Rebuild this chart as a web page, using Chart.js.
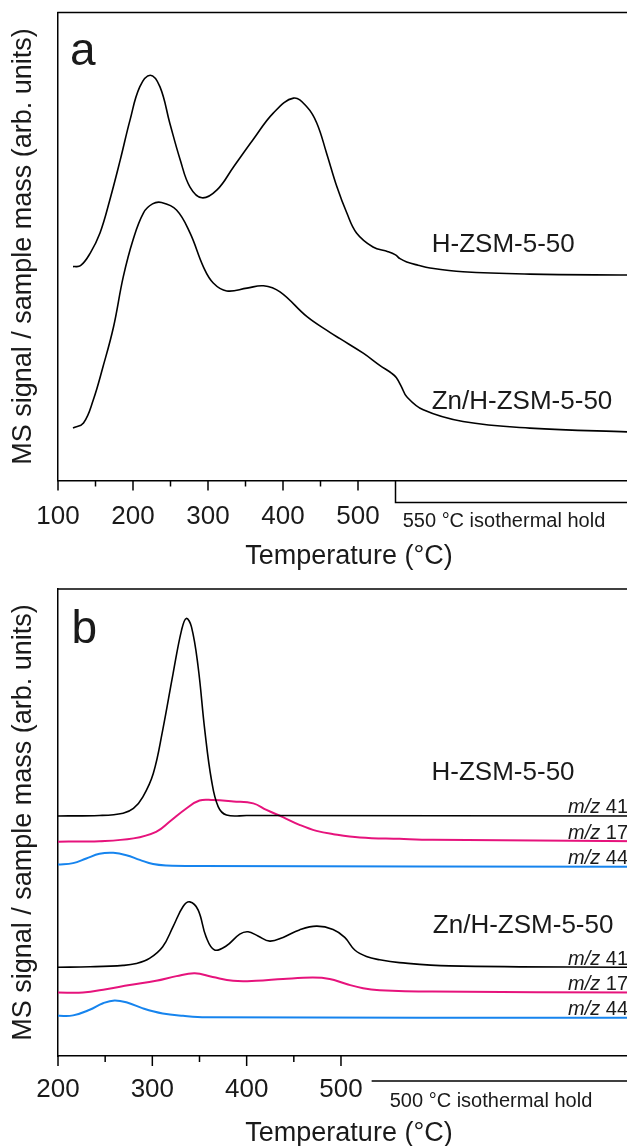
<!DOCTYPE html>
<html><head><meta charset="utf-8">
<script src="https://cdn.jsdelivr.net/npm/chart.js@4.4.0/dist/chart.umd.min.js"></script>
<style>
html,body{margin:0;padding:0;background:#fff;width:627px;height:1146px;overflow:hidden;position:relative;}
#wa{position:absolute;left:0;top:0;width:640px;height:573px;}
#wb{position:absolute;left:0;top:573px;width:640px;height:585px;}
</style></head><body>
<div id="wa"><canvas id="ca" width="640" height="573"></canvas></div>
<div id="wb"><canvas id="cb" width="640" height="585"></canvas></div>
<script>
// ---------- DATA (panel a) ----------
const aTickLabels = [100, 200, 300, 400, 500];
const aMinorTicks = [150, 250, 350, 450];
const aHoldStart = 550;
const aH_T = [120,130,143,156,169,183,196,209,223,236,249,263,276,292,312,334,360,387,414,432,445,458,472,485,498,520,540,550,556,565,580,596,640,729,859,876];
const aH_V = [45.7,45.9,48.6,52.9,59.9,68.5,77.0,84.1,86.6,84.1,76.4,68.5,62.7,60.4,62.1,67.0,72.8,78.5,81.7,79.8,76.4,70.0,62.7,57.2,52.9,49.9,48.9,48.2,47.4,46.7,46.0,45.4,44.6,44.1,43.9,43.9];
const aZ_T = [120,134,147,160,174,187,200,214,226,238,258,276,294,307,325,352,374,396,432,463,476,507,529,545,551,558,565,587,640,729,859,876];
const aZ_V = [11.2,12.3,17.2,24.3,32.8,43.5,51.4,57.2,59.1,59.4,57.8,52.9,45.6,42.2,40.5,41.1,41.6,40.3,35.0,31.6,30.3,27.2,24.6,22.9,22.0,20.0,17.9,15.1,12.6,11.2,10.4,10.4];

// ---------- DATA (panel b) ----------
const bTickLabels = [200, 300, 400, 500];
const bMinorTicks = [250, 350, 450];
const bH41_T = [200,244,269,280,290,301,311,322,331,336,341.5,348.5,355.6,362.7,369.8,378.6,400,817];
const bH41_V = [51.4,51.5,52.0,53.0,55.5,60.5,69.8,81.9,91.2,93.7,91.9,83.4,69.8,59.1,53.4,51.6,51.5,51.4];
const bH17_T = [200,244,280,304,318.5,336,350,364,386,407,421,439,456,474,492,520,562,597,817];
const bH17_V = [45.9,46.0,46.6,48.0,50.2,53.0,54.7,54.8,54.5,54.1,52.7,51.1,49.5,48.2,47.5,46.8,46.5,46.3,46.0];
const bH44_T = [200,216,230,244,258.6,272.5,286.7,300.8,315,350,817];
const bH44_V = [41.0,41.3,42.3,43.3,43.5,43.0,42.0,41.1,40.8,40.7,40.5];
const bZ41_T = [200,234,269,283,297,311,322,332.6,339.7,348.5,357,366,378.6,392.7,401.5,412,424.5,438.6,456,474,491.6,504,514.6,527,541,562,615,817];
const bZ41_V = [19.0,19.1,19.4,19.8,20.9,23.4,27.7,32.0,33.0,31.3,25.5,22.7,23.6,26.1,26.6,25.7,24.6,25.4,27.0,27.8,27.1,25.4,22.7,21.3,20.6,20.0,19.3,19.0];
const bZ17_T = [200,226.5,251,276,304,325.6,345,364,385.6,410,438.6,470,488,505.8,523.4,541,597,817];
const bZ17_V = [13.6,13.6,14.3,15.2,16.1,17.1,17.7,16.9,16.1,16.1,16.5,16.8,16.5,15.4,14.5,14.1,13.8,13.6];
const bZ44_T = [200,216,233.6,247.7,260,274,290,311,332.6,357,817];
const bZ44_V = [8.6,8.7,9.9,11.3,11.9,11.4,10.2,9.1,8.6,8.3,8.2];

const sampleNames = ['H-ZSM-5-50', 'Zn/H-ZSM-5-50'];
const massLabels = ['41', '17', '44'];

// ---------- STYLE ----------
const FONT = "'Liberation Sans', Arial, Helvetica, sans-serif";
const TXT = '#1a1a1a';
const BLACK = '#000000', PINK = '#e6137c', BLUE = '#1684ee';

function pts(T, V) { return T.map((t, i) => ({ x: t, y: V[i] })); }
function ds(T, V, color, w, name) {
  return { label: name, data: pts(T, V), borderColor: color, borderWidth: w, pointRadius: 0,
           fill: false, tension: 0.4, clip: false };
}

const annot = {
  id: 'annot',
  afterDraw(chart, args, o) {
    const { ctx, chartArea: ca, scales: { x, y } } = chart;
    ctx.save();
    ctx.strokeStyle = '#000'; ctx.lineWidth = 1.5; ctx.lineCap = 'butt';
    // top frame
    ctx.beginPath(); ctx.moveTo(ca.left - 0.75, ca.top); ctx.lineTo(ca.right + 2, ca.top); ctx.stroke();
    // tick marks
    const axY = ca.bottom;
    o.major.forEach(v => { const px = x.getPixelForValue(v); ctx.beginPath(); ctx.moveTo(px, axY); ctx.lineTo(px, axY + 10); ctx.stroke(); });
    o.minor.forEach(v => { const px = x.getPixelForValue(v); ctx.beginPath(); ctx.moveTo(px, axY); ctx.lineTo(px, axY + 6); ctx.stroke(); });
    // isothermal hold bracket
    const hb = o.hold;
    const hx = x.getPixelForValue(hb.from);
    ctx.beginPath();
    if (hb.vertical) { ctx.moveTo(hx, axY); ctx.lineTo(hx, axY + hb.drop); }
    else { ctx.moveTo(hx, axY + hb.drop); }
    ctx.lineTo(ca.right + 2, axY + hb.drop);
    ctx.stroke();
    ctx.fillStyle = TXT; ctx.textBaseline = 'alphabetic'; ctx.textAlign = 'left';
    ctx.font = '20px ' + FONT;
    ctx.fillText(hb.text, x.getPixelForValue(hb.textAt), axY + hb.textDy);
    // panel letter
    ctx.font = '46px ' + FONT;
    ctx.fillText(o.letter.t, x.getPixelForValue(o.letter.x), y.getPixelForValue(o.letter.y));
    // sample names
    ctx.font = '26px ' + FONT;
    o.names.forEach(n => ctx.fillText(n.t, x.getPixelForValue(n.x), y.getPixelForValue(n.y)));
    // m/z labels
    if (o.mz) {
      o.mz.forEach(m => {
        const ds = chart.data.datasets[m.ds];
        const last = ds.data[ds.data.length - 1].y;
        const by = y.getPixelForValue(last) - 2.5;
        ctx.font = 'italic 20px ' + FONT; const w1 = ctx.measureText('m/z').width;
        ctx.font = '20px ' + FONT; const w2 = ctx.measureText(' ' + m.t).width;
        const x0 = o.mzRight - w1 - w2;
        ctx.font = 'italic 20px ' + FONT; ctx.fillText('m/z', x0, by);
        ctx.font = '20px ' + FONT; ctx.fillText(' ' + m.t, x0 + w1, by);
      });
    }
    ctx.restore();
  }
};

function makeOptions(cfg) {
  return {
    responsive: false, animation: false, devicePixelRatio: 1,
    layout: { padding: cfg.pad },
    plugins: { legend: { display: false }, tooltip: { enabled: false }, annot: cfg.annot },
    scales: {
      x: {
        type: 'linear', min: cfg.xmin, max: cfg.xmax,
        afterBuildTicks: ax => { ax.ticks = cfg.labels.map(v => ({ value: v })); },
        ticks: { font: { family: FONT, size: 26 }, color: TXT, padding: cfg.tickPad, maxRotation: 0, autoSkip: false, callback: v => String(v) },
        grid: { display: false, drawTicks: false },
        border: { display: true, color: '#000', width: 1.5 },
        title: { display: true, text: 'Temperature (°C)', font: { family: FONT, size: 27 }, color: TXT, padding: { top: 0, bottom: cfg.titlePad } },
        afterFit: ax => { ax.height = cfg.xh; }
      },
      y: {
        min: 0, max: 100,
        ticks: { display: false },
        grid: { display: false, drawTicks: false },
        border: { display: true, color: '#000', width: 1.5 },
        title: { display: true, text: 'MS signal / sample mass (arb. units)', font: { family: FONT, size: 27 }, color: TXT, padding: { top: 7, bottom: 0 } },
        afterFit: ax => { ax.width = 58; }
      }
    }
  };
}

new Chart(document.getElementById('ca'), {
  type: 'line',
  data: { datasets: [ ds(aH_T, aH_V, BLACK, 1.6, sampleNames[0]), ds(aZ_T, aZ_V, BLACK, 1.6, sampleNames[1]) ] },
  options: makeOptions({
    pad: { top: 12.5, left: 0, right: 0, bottom: 0 }, xmin: 100, xmax: 876, labels: aTickLabels,
    tickPad: 21, titlePad: 0, xh: 92.5,
    annot: { major: aTickLabels, minor: aMinorTicks,
      hold: { from: aHoldStart, vertical: true, drop: 22, text: '550 °C isothermal hold', textAt: 559.6, textDy: 46 },
      letter: { t: 'a', x: 116, y: 88.8 },
      names: [ { t: sampleNames[0], x: 598.3, y: 48.9 }, { t: sampleNames[1], x: 598.3, y: 15.2 } ] }
  }),
  plugins: [annot]
});

new Chart(document.getElementById('cb'), {
  type: 'line',
  data: { datasets: [
    ds(bH41_T, bH41_V, BLACK, 1.6, 'H m/z 41'), ds(bH17_T, bH17_V, PINK, 2, 'H m/z 17'), ds(bH44_T, bH44_V, BLUE, 2, 'H m/z 44'),
    ds(bZ41_T, bZ41_V, BLACK, 1.6, 'Zn m/z 41'), ds(bZ17_T, bZ17_V, PINK, 2, 'Zn m/z 17'), ds(bZ44_T, bZ44_V, BLUE, 2, 'Zn m/z 44') ] },
  options: makeOptions({
    pad: { top: 16, left: 0, right: 0, bottom: 7 }, xmin: 200, xmax: 817, labels: bTickLabels,
    tickPad: 18, titlePad: 1, xh: 95,
    annot: { major: bTickLabels, minor: bMinorTicks,
      hold: { from: 532.5, vertical: false, drop: 25, text: '500 °C isothermal hold', textAt: 551.7, textDy: 50.7 },
      letter: { t: 'b', x: 214.2, y: 88.4 },
      names: [ { t: sampleNames[0], x: 596, y: 59.1 }, { t: sampleNames[1], x: 597.4, y: 26.3 } ],
      mzRight: 628,
      mz: [ { ds: 0, t: massLabels[0] }, { ds: 1, t: massLabels[1] }, { ds: 2, t: massLabels[2] },
            { ds: 3, t: massLabels[0] }, { ds: 4, t: massLabels[1] }, { ds: 5, t: massLabels[2] } ] }
  }),
  plugins: [annot]
});
</script>
</body></html>
